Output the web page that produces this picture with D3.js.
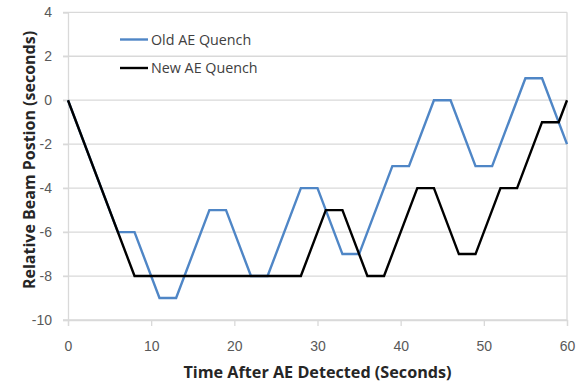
<!DOCTYPE html>
<html>
<head>
<meta charset="utf-8">
<script src="https://cdn.jsdelivr.net/npm/d3@7"></script>
<style>
  html, body { margin: 0; padding: 0; background: #fff; }
  svg { display: block; font-family: "Open Sans", "Noto Sans", sans-serif; }
</style>
</head>
<body>
<svg id="chart" width="583" height="385"></svg>
<script>
// Beam position (seconds) vs. time after AE detection
const oldTime = [0, 6, 8, 11, 13, 17, 19, 22, 24, 28, 30, 33, 35, 39, 41, 44, 46, 49, 51, 55, 57, 60];
const oldPos  = [0, -6, -6, -9, -9, -5, -5, -8, -8, -4, -4, -7, -7, -3, -3, 0, 0, -3, -3, 1, 1, -2];
const newTime = [0, 8, 28, 31, 33, 36, 38, 42, 44, 47, 49, 52, 54, 57, 59, 60];
const newPos  = [0, -8, -8, -5, -5, -8, -8, -4, -4, -7, -7, -4, -4, -1, -1, 0];
const xTicks = [0, 10, 20, 30, 40, 50, 60];
const yTicks = [4, 2, 0, -2, -4, -6, -8, -10];
const seriesNames = ["Old AE Quench", "New AE Quench"];
const seriesColors = ["#4f86c6", "#000000"];

const svg = d3.select("#chart");
const plot = { left: 68, right: 567, top: 12.3, bottom: 320 };

const x = d3.scaleLinear().domain([0, 60]).range([plot.left, plot.right]);
const y = d3.scaleLinear().domain([-10, 4]).range([plot.bottom, plot.top]);

const grid = "#d9d9d9";
const tickText = "#595959";

// horizontal gridlines
svg.append("g")
  .selectAll("line")
  .data(yTicks)
  .join("line")
  .attr("x1", plot.left - 5).attr("x2", plot.right)
  .attr("y1", d => y(d)).attr("y2", d => y(d))
  .attr("stroke", grid).attr("stroke-width", 1.3);

// right frame edge
svg.append("line")
  .attr("x1", plot.right).attr("x2", plot.right)
  .attr("y1", plot.top).attr("y2", plot.bottom)
  .attr("stroke", grid).attr("stroke-width", 1.3);

// y axis
const yAxis = svg.append("g")
  .attr("transform", `translate(${plot.left},0)`)
  .call(d3.axisLeft(y).tickValues(yTicks).tickSize(5).tickPadding(11).tickFormat(d3.format("d")));
yAxis.select(".domain").attr("stroke", grid).attr("stroke-width", 1.3);
yAxis.selectAll(".tick line").attr("stroke", grid).attr("stroke-width", 1.3);
yAxis.selectAll("text").attr("fill", tickText).style("font-size", "14px")
  .text(d => d < 0 ? "-" + Math.abs(d) : d);

// x axis
const xAxis = svg.append("g")
  .attr("transform", `translate(0,${plot.bottom})`)
  .call(d3.axisBottom(x).tickValues(xTicks).tickSize(6).tickPadding(15));
xAxis.select(".domain").attr("stroke", grid).attr("stroke-width", 1.3);
xAxis.selectAll(".tick line").attr("stroke", grid).attr("stroke-width", 1.3);
xAxis.selectAll("text").attr("fill", tickText).style("font-size", "14px");

// series lines
const line = d3.line().x(d => x(d[0])).y(d => y(d[1]));
const series = [
  d3.zip(oldTime, oldPos),
  d3.zip(newTime, newPos)
];
svg.append("g")
  .selectAll("path")
  .data(series)
  .join("path")
  .attr("d", line)
  .attr("fill", "none")
  .attr("stroke", (d, i) => seriesColors[i])
  .attr("stroke-width", 2.4)
  .attr("stroke-linejoin", "miter");

// legend
const legend = svg.append("g");
seriesNames.forEach((name, i) => {
  const ly = 39.5 + i * 28.5;
  legend.append("line")
    .attr("x1", 120).attr("x2", 148)
    .attr("y1", ly).attr("y2", ly)
    .attr("stroke", seriesColors[i]).attr("stroke-width", 2.4);
  legend.append("text")
    .attr("x", 151).attr("y", ly)
    .attr("dy", "0.35em")
    .attr("fill", "#404040")
    .style("font-size", "14.3px")
    .text(name);
});

// axis titles
svg.append("text")
  .attr("x", (plot.left + plot.right) / 2).attr("y", 378)
  .attr("text-anchor", "middle")
  .attr("fill", "#262626")
  .style("font-size", "16.2px").style("font-weight", "bold")
  .text("Time After AE Detected (Seconds)");

svg.append("text")
  .attr("transform", "translate(29,160) rotate(-90)")
  .attr("text-anchor", "middle")
  .attr("dy", "0.35em")
  .attr("fill", "#262626")
  .style("font-size", "16px").style("font-weight", "bold")
  .text("Relative Beam Postion (seconds)");
</script>
</body>
</html>
